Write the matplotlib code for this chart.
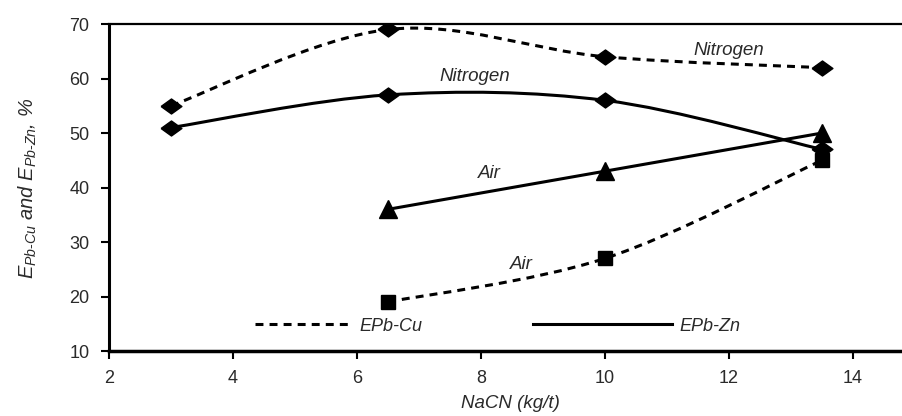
import matplotlib
matplotlib.use("Agg")
import numpy as np
import matplotlib.pyplot as plt
from matplotlib.path import Path
from matplotlib.patches import PathPatch
from matplotlib.lines import Line2D

plt.rcParams['font.family'] = ['Liberation Sans', 'DejaVu Sans']
plt.rcParams['mathtext.fontset'] = 'custom'
plt.rcParams['mathtext.rm'] = 'Liberation Sans'
plt.rcParams['mathtext.it'] = 'Liberation Sans:italic'

# data
nacn_n = [3, 6.5, 10, 13.5]
cu_nitrogen = [55, 69, 64, 62]
zn_nitrogen = [51, 57, 56, 47]
nacn_a = [6.5, 10, 13.5]
zn_air = [36, 43, 50]
cu_air = [19, 27, 45]

txt = '#2a2a2a'


def smooth_path(xs, ys):
    # excel style smoothed line: catmull-rom as cubic bezier segments
    p = np.column_stack([xs, ys]).astype(float)
    p = np.vstack([p[0], p, p[-1]])
    verts = [tuple(p[1])]
    codes = [Path.MOVETO]
    for i in range(1, len(p) - 2):
        c1 = p[i] + (p[i + 1] - p[i - 1]) / 6
        c2 = p[i + 1] - (p[i + 2] - p[i]) / 6
        verts += [tuple(c1), tuple(c2), tuple(p[i + 1])]
        codes += [Path.CURVE4] * 3
    return Path(verts, codes)


diamond = [(-1, 0), (0, 0.72), (1, 0), (0, -0.72), (-1, 0)]
dash = (0, (2.6, 2.0))

fig = plt.figure(figsize=(9.02, 4.16), dpi=100)
ax = fig.add_axes([0.1208, 0.1562, 0.8936, 0.786])
ax.set_xlim(2, 15)
ax.set_ylim(10, 70)

ax.add_patch(PathPatch(smooth_path(nacn_n, cu_nitrogen), fill=False, ec='black', lw=2.2, ls=dash))
ax.add_patch(PathPatch(smooth_path(nacn_n, zn_nitrogen), fill=False, ec='black', lw=2.2))
ax.add_patch(PathPatch(smooth_path(nacn_a, zn_air), fill=False, ec='black', lw=2.2))
ax.add_patch(PathPatch(smooth_path(nacn_a, cu_air), fill=False, ec='black', lw=2.2, ls=dash))

ax.plot(nacn_n, cu_nitrogen, ls='none', marker=diamond, ms=15, color='black', zorder=5)
ax.plot(nacn_n, zn_nitrogen, ls='none', marker=diamond, ms=15, color='black', zorder=5)
ax.plot(nacn_a, zn_air, ls='none', marker='^', ms=13, color='black', zorder=5)
ax.plot(nacn_a, cu_air, ls='none', marker='s', ms=10, color='black', zorder=5)

lab = dict(style='italic', fontsize=13.5, color=txt, ha='center', va='center')
ax.text(12.0, 65.2, 'Nitrogen', **lab)
ax.text(7.9, 60.3, 'Nitrogen', **lab)
ax.text(8.13, 42.6, 'Air', **lab)
ax.text(8.65, 25.8, 'Air', **lab)

# two legend entries with different line lengths
legprops = dict(loc='center left', frameon=False, borderpad=0, borderaxespad=0,
                handletextpad=0.4, prop={'style': 'italic', 'size': 13}, labelcolor=txt)
leg1 = ax.legend([Line2D([], [], color='black', lw=2.2, ls=dash)], ['EPb-Cu'],
                 bbox_to_anchor=(0.181, 0.0765), handlelength=5.4, **legprops)
ax.add_artist(leg1)
ax.legend([Line2D([], [], color='black', lw=2.2)], ['EPb-Zn'],
          bbox_to_anchor=(0.526, 0.0765), handlelength=7.7, **legprops)

ax.set_xticks([2, 4, 6, 8, 10, 12, 14])
ax.set_yticks([10, 20, 30, 40, 50, 60, 70])
ax.tick_params(direction='out', length=6, width=1.5, labelsize=13, labelcolor=txt)
ax.tick_params(axis='y', pad=8)
ax.tick_params(axis='x', pad=8)
ax.spines['left'].set_linewidth(2.2)
ax.spines['bottom'].set_linewidth(2.5)
ax.spines['top'].set_linewidth(1.6)
ax.spines['right'].set_visible(False)

ax.set_xlabel('NaCN (kg/t)', style='italic', fontsize=13.5, color=txt)
ax.xaxis.set_label_coords(0.4975, -0.135)
ax.set_ylabel(r'$E_{Pb\text{-}Cu}$ and $E_{Pb\text{-}Zn}$, %', style='italic', fontsize=14.5,
              color=txt)
ax.yaxis.set_label_coords(-0.087, 0.498)

fig.savefig('out.png', dpi=100)
